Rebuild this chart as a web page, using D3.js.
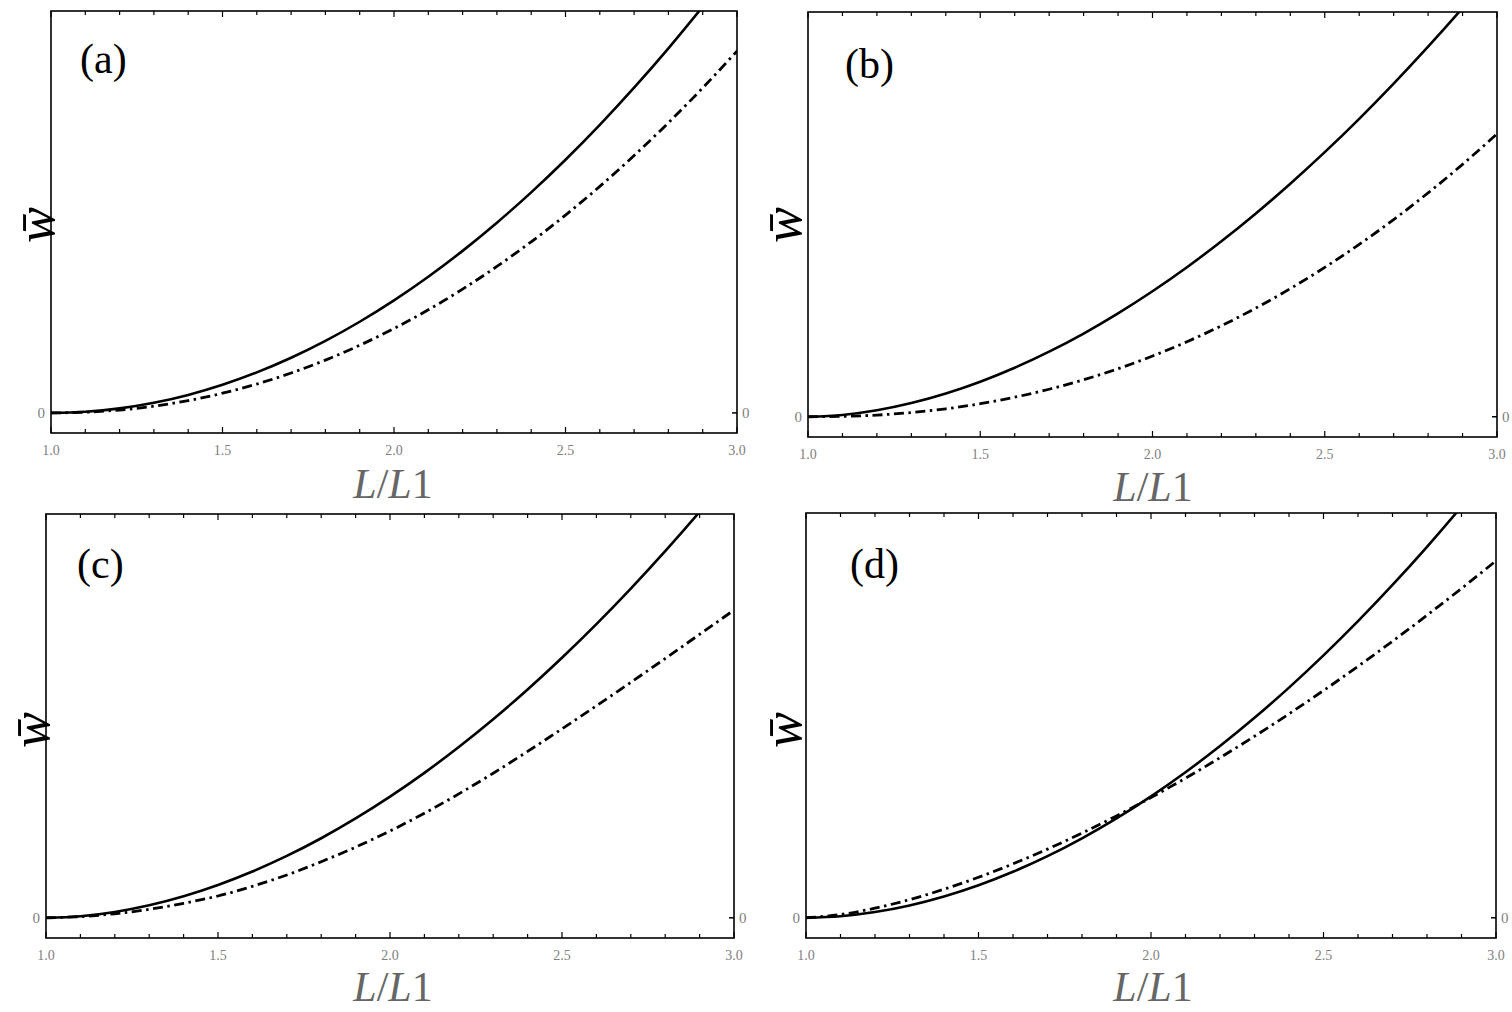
<!DOCTYPE html>
<html><head><meta charset="utf-8">
<script src="https://cdn.jsdelivr.net/npm/d3@7"></script>
<style>body{margin:0;background:#fff}</style>
</head><body>
<svg id="c" width="1512" height="1012"></svg>
<script>
const L = [1.0,1.1,1.2,1.3,1.4,1.5,1.6,1.7,1.8,1.9,2.0,2.1,2.2,2.3,2.4,2.5,2.6,2.7,2.8,2.9,3.0];
const solidA = [0,0.0028,0.0112,0.0252,0.0448,0.07,0.1008,0.1372,0.1792,0.2268,0.28,0.3388,0.4032,0.4732,0.5488,0.63,0.7168,0.8092,0.9072,1.0108,1.12];
const dashA  = [0,0.0017,0.0072,0.0167,0.0306,0.049,0.0718,0.0992,0.1314,0.1683,0.21,0.2566,0.308,0.3644,0.4258,0.4922,0.5636,0.6403,0.7219,0.8086,0.9003];
const solidB = [0,0.0045,0.016,0.0338,0.0574,0.0866,0.1211,0.1608,0.2056,0.2554,0.31,0.3694,0.4336,0.5024,0.5758,0.6537,0.7361,0.823,0.9142,1.0099,1.1098];
const dashB  = [0,0.0009,0.0042,0.0104,0.0196,0.0322,0.0483,0.068,0.0914,0.1187,0.15,0.1854,0.2248,0.2686,0.3166,0.369,0.4258,0.4872,0.5531,0.6236,0.6989];
const solidC = [0,0.0039,0.0145,0.031,0.0534,0.0813,0.1146,0.1532,0.197,0.246,0.30,0.359,0.423,0.4918,0.5655,0.644,0.7273,0.8153,0.908,1.0053,1.1073];
const dashC  = [0,0.003,0.010,0.021,0.036,0.054,0.078,0.106,0.139,0.175,0.215,0.259,0.307,0.358,0.412,0.468,0.525,0.583,0.642,0.702,0.762];
const solidD = [0,0.0038,0.0141,0.0305,0.0526,0.0804,0.1137,0.1523,0.1964,0.2456,0.30,0.3596,0.4242,0.4939,0.5686,0.6482,0.7327,0.8222,0.9165,1.0157,1.1196];
const dashD  = [0,0.008,0.0237,0.0448,0.0705,0.1,0.1332,0.1696,0.2092,0.2517,0.297,0.3449,0.3954,0.4484,0.5037,0.5613,0.6212,0.6832,0.7473,0.8136,0.8818];
const panelNames = ["(a)","(b)","(c)","(d)"];
const xTickLabels = ["1.0","1.5","2.0","2.5","3.0"];
const yTickLabels = ["0"];

const panels = [
  {name:panelNames[0], s:solidA, d:dashA, box:[51,11,737,433], lab:[80,73], yl:[38,225], xl:[393,498]},
  {name:panelNames[1], s:solidB, d:dashB, box:[808,12,1497,437], lab:[845,78], yl:[785,225], xl:[1153,501]},
  {name:panelNames[2], s:solidC, d:dashC, box:[46,514,734,938], lab:[77,578], yl:[33,730], xl:[393,1001]},
  {name:panelNames[3], s:solidD, d:dashD, box:[806,513,1496,938], lab:[850,578], yl:[785,730], xl:[1153,1001]}
];
const svg = d3.select("#c");
const serif = "'Liberation Serif','DejaVu Serif',serif";
panels.forEach((p,i)=>{
  const [x0,y0,x1,y1] = p.box;
  const x = d3.scaleLinear().domain([1,3]).range([x0,x1]);
  const y = d3.scaleLinear().domain([-0.05,1]).range([y1,y0]);
  const g = svg.append("g");
  const cid = "clip"+i;
  g.append("clipPath").attr("id",cid).append("rect").attr("x",x0).attr("y",y0).attr("width",x1-x0).attr("height",y1-y0);
  const line = d3.line().x((d,j)=>x(L[j])).y(d=>y(d)).curve(d3.curveMonotoneX);
  g.append("path").attr("d",line(p.d)).attr("clip-path",`url(#${cid})`).attr("fill","none")
    .attr("stroke","#000").attr("stroke-width",2.8).attr("stroke-dasharray","10,4.5,2.5,4.5");
  g.append("path").attr("d",line(p.s)).attr("clip-path",`url(#${cid})`).attr("fill","none")
    .attr("stroke","#000").attr("stroke-width",2.6);
  const minor = d3.range(1,3.0001,0.1);
  minor.forEach(t=>{
    const major = Math.abs(t*2-Math.round(t*2))<1e-6;
    const len = major?6:4;
    g.append("line").attr("x1",x(t)).attr("x2",x(t)).attr("y1",y1).attr("y2",y1-len).attr("stroke","#000").attr("stroke-width",1.2);
    g.append("line").attr("x1",x(t)).attr("x2",x(t)).attr("y1",y0).attr("y2",y0+len).attr("stroke","#000").attr("stroke-width",1.2);
  });
  xTickLabels.forEach(t=>{
    g.append("text").attr("x",x(+t)).attr("y",y1+22).attr("text-anchor","middle")
      .attr("font-family",serif).attr("font-size",14).attr("fill","#808080").text(t);
  });
  g.append("line").attr("x1",x0).attr("x2",x0+5).attr("y1",y(0)).attr("y2",y(0)).attr("stroke","#000").attr("stroke-width",1.5);
  g.append("line").attr("x1",x1).attr("x2",x1-5).attr("y1",y(0)).attr("y2",y(0)).attr("stroke","#000").attr("stroke-width",1.5);
  g.append("text").attr("x",x0-6).attr("y",y(0)+5).attr("text-anchor","end")
    .attr("font-family",serif).attr("font-size",15).attr("fill","#808080").text(yTickLabels[0]);
  g.append("text").attr("x",x1+5).attr("y",y(0)+5).attr("text-anchor","start")
    .attr("font-family",serif).attr("font-size",15).attr("fill","#808080").text(yTickLabels[0]);
  g.append("rect").attr("x",x0).attr("y",y0).attr("width",x1-x0).attr("height",y1-y0)
    .attr("fill","none").attr("stroke","#000").attr("stroke-width",1.6);
  g.append("text").attr("x",p.lab[0]).attr("y",p.lab[1]).attr("font-family",serif)
    .attr("font-size",42).attr("fill","#000").text(p.name);
  g.append("text").attr("transform",`translate(${p.yl[0]+16},${p.yl[1]}) rotate(-90)`)
    .attr("text-anchor","middle").attr("font-family",serif).attr("font-style","italic")
    .attr("font-size",54).attr("fill","#000").text("w\u0304");
  const xt = g.append("text").attr("x",p.xl[0]).attr("y",p.xl[1]).attr("text-anchor","middle")
    .attr("font-family",serif).attr("font-size",42).attr("fill","#666");
  xt.append("tspan").attr("font-style","italic").text("L");
  xt.append("tspan").text("/");
  xt.append("tspan").attr("font-style","italic").text("L");
  xt.append("tspan").text("1");
});
</script>
</body></html>
